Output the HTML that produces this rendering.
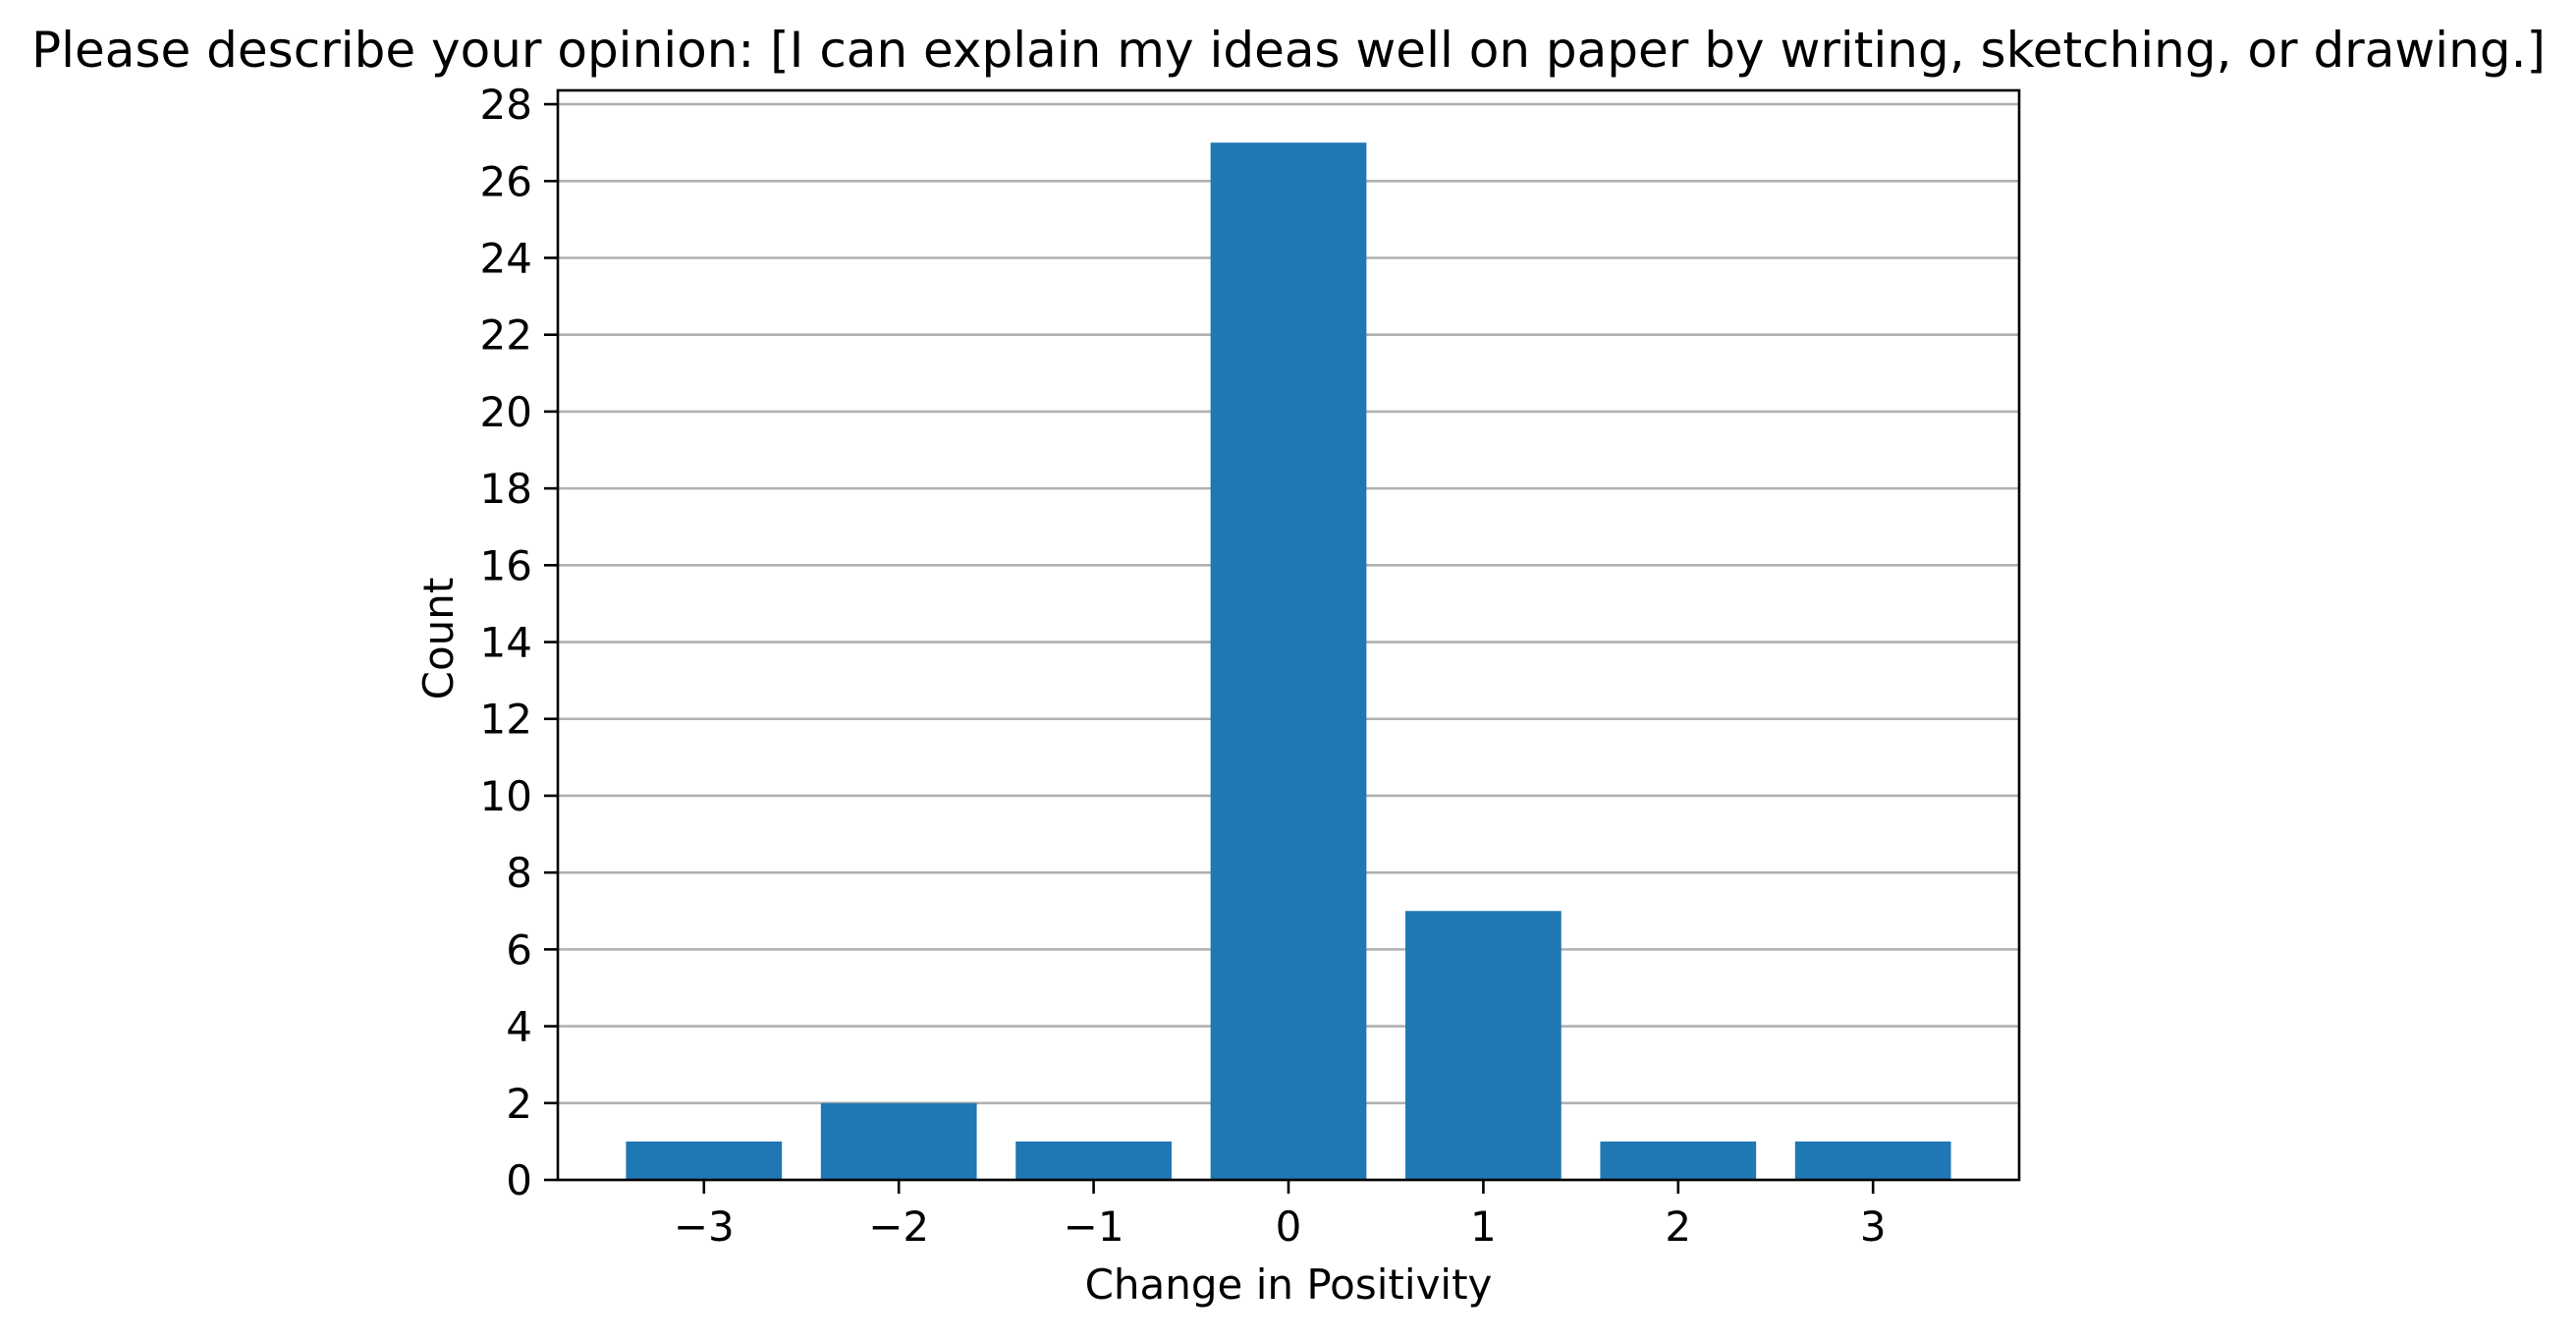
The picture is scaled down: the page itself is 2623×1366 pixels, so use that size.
<!DOCTYPE html>
<html><head><meta charset="utf-8"><style>
body{margin:0;background:#fff}
svg text{font-family:"DejaVu Sans","Liberation Sans",sans-serif;fill:#000}
</style></head><body>
<svg id="chart" width="2623" height="1361" viewBox="0 0 2623 1361" xmlns="http://www.w3.org/2000/svg">
<rect width="2623" height="1361" fill="#fff"/>
<text x="1312" y="68" font-size="50" text-anchor="middle">Please describe your opinion: [I can explain my ideas well on paper by writing, sketching, or drawing.]</text>
<g id="grid"></g><g id="bars"></g><g id="axes"></g>
<text x="1312" y="1322" font-size="42" text-anchor="middle">Change in Positivity</text>
<text transform="translate(461,650) rotate(-90)" font-size="42" text-anchor="middle">Count</text>
</svg>
<script>
const categories=[-3,-2,-1,0,1,2,3];
const counts=[1,2,1,27,7,1,1];
const yTicks=[0,2,4,6,8,10,12,14,16,18,20,22,24,26,28];
const xTickLabels=["\u22123","\u22122","\u22121","0","1","2","3"];
const L=568,R=2056,T=92,B=1201;
const xMin=-3.75,xMax=3.75,yMax=28.36;
const xs=v=>L+(v-xMin)/(xMax-xMin)*(R-L);
const ys=v=>B-v/yMax*(B-T);
const NS="http://www.w3.org/2000/svg";
function mk(t,a,p){const e=document.createElementNS(NS,t);for(const k in a)e.setAttribute(k,a[k]);p.appendChild(e);return e;}
const grid=document.getElementById('grid'),bars=document.getElementById('bars'),axes=document.getElementById('axes');
yTicks.forEach(v=>{
 const g=mk('line',{x1:L,x2:R,y1:ys(v),y2:ys(v),stroke:'#b0b0b0','stroke-width':2.6},grid);
 
 
 const t=mk('line',{x1:L-14,x2:L,y1:ys(v),y2:ys(v),stroke:'#000','stroke-width':2.6},axes);
 
 
 const tx=mk('text',{x:L-26,y:ys(v)+15,'font-size':42,'text-anchor':'end'},axes);
 tx.textContent=v;
 
 
});
categories.forEach((c,i)=>{
 const w=(xs(0.4)-xs(-0.4));
 const b=mk('rect',{x:xs(c)-w/2,y:ys(counts[i]),width:w,height:ys(0)-ys(counts[i]),fill:'#1f77b4'},bars);
 
 
 const t=mk('line',{x1:xs(c),x2:xs(c),y1:B,y2:B+14,stroke:'#000','stroke-width':2.6},axes);
 
 
 const tx=mk('text',{x:xs(c),y:B+62,'font-size':42,'text-anchor':'middle'},axes);
 tx.textContent=xTickLabels[i];
 
 
});
const f=mk('rect',{x:L,y:T,width:R-L,height:B-T,fill:'none',stroke:'#000','stroke-width':2.6},axes);


</script>
</body></html>
